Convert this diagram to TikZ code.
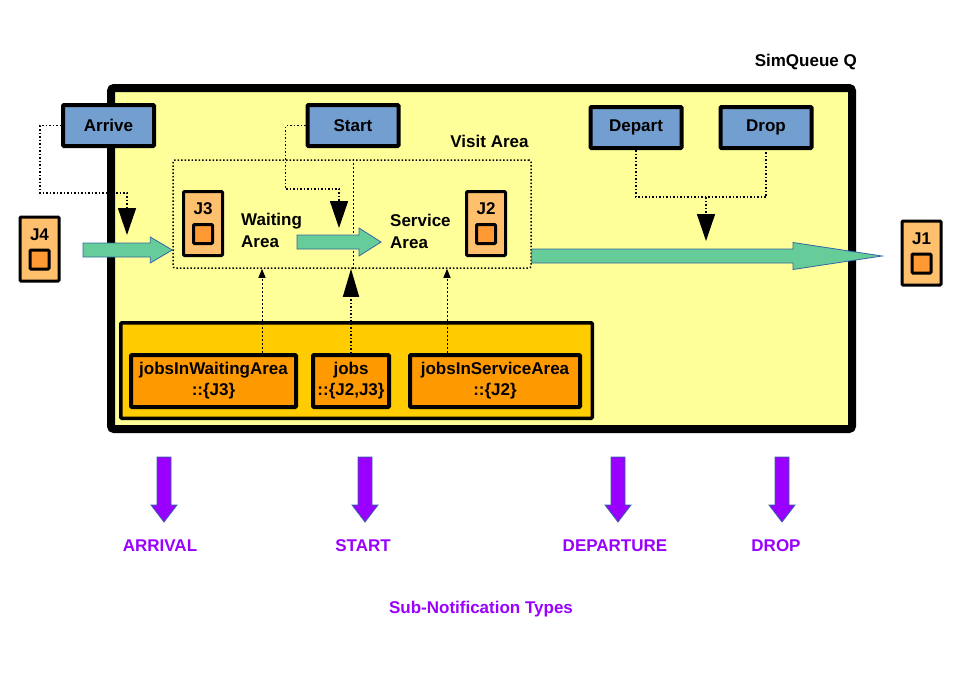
\documentclass[tikz,border=0pt]{standalone}
\usepackage{fontspec}
\setmainfont{Liberation Sans}
\usetikzlibrary{arrows.meta, positioning, calc}
\definecolor{qyellow}{HTML}{FFFF99}
\definecolor{cmdblue}{HTML}{729FCF}
\definecolor{joblight}{HTML}{FFC06E}
\definecolor{jobdark}{HTML}{FF9933}
\definecolor{setgold}{HTML}{FFCC00}
\definecolor{setorange}{HTML}{FF9900}
\definecolor{flowgreen}{HTML}{66CC99}
\definecolor{edgeblue}{HTML}{3465A4}
\definecolor{notipurple}{HTML}{9900FF}
\tikzset{
  queuebox/.style={rectangle, draw=black, line width=8pt, fill=qyellow, rounded corners=3pt},
  cmd/.style={rectangle, draw=black, line width=4pt, fill=cmdblue, rounded corners=1pt,
    minimum width=91pt, minimum height=41pt, inner sep=0pt},
  jobbox/.style={rectangle, draw=black, line width=3pt, fill=joblight, rounded corners=1pt,
    minimum width=39pt, minimum height=64pt},
  jobsq/.style={rectangle, draw=black, line width=3pt, fill=jobdark, rounded corners=1pt,
    minimum width=19pt, minimum height=19pt},
  visitbox/.style={rectangle, draw=black, line width=1.5pt, dash pattern=on 1.5pt off 2pt,
    rounded corners=2pt, minimum width=358pt, minimum height=108pt},
  setgroup/.style={rectangle, draw=black, line width=3.5pt, fill=setgold, rounded corners=1pt},
  setbox/.style={rectangle, draw=black, line width=4pt, fill=setorange, rounded corners=1pt,
    minimum height=52pt, inner sep=0pt, align=center, font=\fontsize{17}{21}\selectfont\bfseries},
  txt/.style={inner sep=0pt, align=left},
  notilbl/.style={inner sep=0pt, text=notipurple},
  dotline/.style={draw=black, line width=1.5pt, dash pattern=on 1.5pt off 2pt},
  thinline/.style={draw=black, line width=1pt, dash pattern=on 2pt off 2pt},
  bigarr/.style={-{Triangle[length=27pt, width=18pt]}},
  smallarr/.style={-{Triangle[length=9pt, width=7pt]}},
  flowarr/.style={fill=flowgreen, draw=edgeblue, line width=0.8pt},
  notiarr/.style={fill=notipurple, draw=edgeblue, line width=0.8pt},
}
% fat horizontal arrow: style, from, to, half shaft, half head, head length
\newcommand{\hfat}[6]{%
  \filldraw[#1] let \p1=(#2), \p2=(#3) in
    (\x1,\y1+#4) -- (\x2-#6,\y1+#4) -- (\x2-#6,\y1+#5) -- (\x2,\y1)
    -- (\x2-#6,\y1-#5) -- (\x2-#6,\y1-#4) -- (\x1,\y1-#4) -- cycle;}
% fat downward arrow: style, from, to, half shaft, half head, head length
\newcommand{\vfat}[6]{%
  \filldraw[#1] let \p1=(#2), \p2=(#3) in
    (\x1-#4,\y1) -- (\x1-#4,\y2+#6) -- (\x1-#5,\y2+#6) -- (\x1,\y2)
    -- (\x1+#5,\y2+#6) -- (\x1+#4,\y2+#6) -- (\x1+#4,\y1) -- cycle;}
% job token: name, position, label
\newcommand{\jobnode}[3]{%
  \node[jobbox] (#1) at (#2) {};
  \node[txt] (#1lbl) at ([yshift=14.5pt]#1.center) {#3};
  \node[jobsq] (#1sq) at ([yshift=-10.5pt]#1.center) {};}

\begin{document}
\begin{tikzpicture}[x=1pt, y=-1pt, font=\fontsize{17}{22}\selectfont\bfseries]
  \useasboundingbox (0,0) rectangle (960,672);

  % the queue
  \node[queuebox, minimum width=741pt, minimum height=341pt] (simq) at (481.5,258.5) {};
  \node[txt, anchor=east] (simqlbl) at (857,62) {SimQueue Q};

  \node[visitbox] (visit) at (352,214) {};
  \node[txt] (visitlbl) at (489.5,141) {Visit Area};
  \node[txt, anchor=west] (waitlbl) at (241,230) {Waiting\\Area};
  \node[txt, anchor=west] (servlbl) at (390,231) {Service\\Area};

  % job sets
  \node[setgroup, minimum width=471.5pt, minimum height=95.5pt] (sets) at (356.5,370.5) {};
  \node[setbox, minimum width=165pt] (waitset) at (213.5,381) {jobsInWaitingArea\\::\{J3\}};
  \node[setbox, minimum width=76pt] (jobset) at (351,381) {jobs\\::\{J2,J3\}};
  \node[setbox, minimum width=170pt] (servset) at (495,381) {jobsInServiceArea\\::\{J2\}};

  % jobs
  \jobnode{jthree}{203,223.5}{J3}
  \jobnode{jtwo}{486,223.5}{J2}
  \jobnode{jfour}{39.5,249}{J4}
  \jobnode{jone}{921.5,253}{J1}

  % actions
  \node[cmd] (arrive) at (108.5,125.5) {Arrive};
  \node[cmd] (start) at (353,125.5) {Start};
  \node[cmd] (depart) at (636,127.5) {Depart};
  \node[cmd] (drop) at (766,127.5) {Drop};

  \coordinate (arrbend) at (127,193);
  \coordinate (arrin) at (127,235);
  \coordinate (startbend) at (339,189);
  \coordinate (startin) at (339,228);
  \coordinate (ddjoin) at (706,197);
  \coordinate (ddin) at (706,241);

  \draw[dotline, bigarr] (arrive.west) -- ++(-21,0) |- (arrbend) -- (arrin);
  \draw[dotline, bigarr] (start.west) -- ++(-20,0) |- (startbend) -- (startin);
  \draw[dotline] (depart.south) |- (ddjoin) -| (drop.south);
  \draw[dotline, bigarr] (ddjoin) -- (ddin);

  % set views
  \coordinate (waittap) at ([xshift=48.5pt]waitset.north);
  \coordinate (servtap) at ([xshift=-48pt]servset.north);
  \draw[thinline, smallarr] (waittap) -- (waittap |- visit.south);
  \draw[thinline, smallarr] (servtap) -- (servtap |- visit.south);
  \draw[thinline] ([xshift=2pt]jobset.north |- visit.north) -- ([xshift=2pt]jobset.north |- visit.south);
  \draw[dotline, -{Triangle[length=28pt, width=16pt]}] (jobset.north) -- (jobset.north |- visit.south);

  % job flow
  \coordinate (flowin) at (83,250);
  \coordinate (flowout) at (882,256);
  \hfat{flowarr}{flowin}{visit.west}{7pt}{13pt}{22pt}
  \hfat{flowarr}{297,242}{381,242}{7pt}{14pt}{22pt}
  \hfat{flowarr}{visit.east |- flowout}{flowout}{7pt}{13.5pt}{89pt}

  % sub-notifications
  \node[notilbl] (arrival) at (160,546) {ARRIVAL};
  \node[notilbl] (startn) at (363,546) {START};
  \node[notilbl] (departure) at (615,546) {DEPARTURE};
  \node[notilbl] (dropn) at (776,546) {DROP};
  \node[notilbl] (types) at (481,609) {Sub-Notification Types};

  \vfat{notiarr}{164,457}{164,522}{7pt}{13pt}{17pt}
  \vfat{notiarr}{365,457}{365,522}{7pt}{13pt}{17pt}
  \vfat{notiarr}{618,457}{618,522}{7pt}{13pt}{17pt}
  \vfat{notiarr}{782,457}{782,522}{7pt}{13pt}{17pt}
\end{tikzpicture}
\end{document}
